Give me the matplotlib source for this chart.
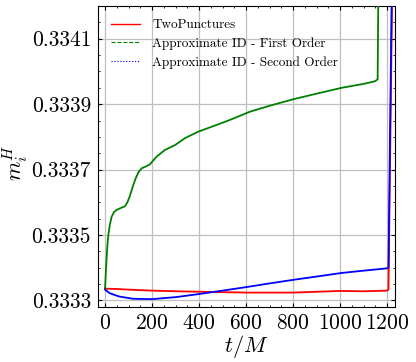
import numpy as np
import matplotlib
matplotlib.use('Agg')
import matplotlib.pyplot as plt
from matplotlib.lines import Line2D
from matplotlib.ticker import AutoMinorLocator

plt.rcParams['font.family'] = 'serif'
plt.rcParams['font.serif'] = ['cmr10']
plt.rcParams['mathtext.fontset'] = 'cm'
plt.rcParams['axes.formatter.use_mathtext'] = True

# TwoPunctures
t_tp = [0, 50, 100, 200, 300, 447, 600, 800, 1000, 1100, 1200, 1206, 1222]
m_tp = [0.333336, 0.333335, 0.333333, 0.333330, 0.333328, 0.333326, 0.333324,
        0.333324, 0.333329, 0.333328, 0.333330, 0.333333, 0.33425]

# Approximate ID - First Order
t_fo = [0, 5, 10, 14, 20, 28, 38, 50, 65, 85, 95, 106, 117, 128, 142, 156,
        175, 191, 205, 220, 255, 298, 340, 397, 454, 525, 617, 700, 801, 900,
        1007, 1100, 1149, 1160, 1163]
m_fo = [0.333336, 0.33341, 0.333470, 0.333500, 0.333530, 0.333556, 0.333570,
        0.333577, 0.333582, 0.333588, 0.333600, 0.333620, 0.333646, 0.333669,
        0.333692, 0.333704, 0.333710, 0.333716, 0.333728, 0.333740, 0.333760,
        0.333775, 0.333796, 0.333816, 0.333831, 0.333850, 0.333877, 0.333895,
        0.333915, 0.333932, 0.333950, 0.333962, 0.333970, 0.333976, 0.33425]

# Approximate ID - Second Order
t_so = [0, 20, 60, 120, 200, 300, 404, 500, 603, 700, 801, 900, 1007, 1100,
        1199, 1206, 1220]
m_so = [0.333333, 0.333322, 0.333312, 0.333305, 0.333304, 0.333310, 0.333320,
        0.333330, 0.333341, 0.333352, 0.333363, 0.333373, 0.333384, 0.333391,
        0.333398, 0.333400, 0.33425]

xticks = [0, 200, 400, 600, 800, 1000, 1200]
yticks = [0.3333, 0.3335, 0.3337, 0.3339, 0.3341]

fig = plt.figure(figsize=(4.16, 3.62), dpi=100)
ax = fig.add_axes([0.2356, 0.152, 0.714, 0.8314])

ax.plot(t_tp, m_tp, color='red', lw=1.3, zorder=3)
ax.plot(t_fo, m_fo, color='green', lw=1.3, zorder=3)
ax.plot(t_so, m_so, color='blue', lw=1.3, zorder=3)

ax.set_xlim(-30, 1234)
ax.set_ylim(0.33328, 0.33420)
ax.set_xticks(xticks)
ax.set_yticks(yticks)
ax.set_yticklabels(['%.4f' % v for v in yticks])
ax.xaxis.set_minor_locator(AutoMinorLocator(4))
ax.yaxis.set_minor_locator(AutoMinorLocator(4))
ax.tick_params(which='both', direction='in', top=True, right=True, labelsize=15.5, pad=5)
ax.tick_params(which='major', length=3)
ax.tick_params(which='minor', length=1.5)
ax.grid(True, which='major', color='0.75', lw=0.9)

ax.set_xlabel(r'$t/M$', fontsize=16, labelpad=0)
ax.set_ylabel(r'$m_i^H$', fontsize=16)
ax.yaxis.set_label_coords(-0.228, 0.48)

handles = [Line2D([], [], color='red', lw=1.0, ls='-'),
           Line2D([], [], color='green', lw=0.8, ls='--'),
           Line2D([], [], color='blue', lw=0.8, ls=':')]
labels = ['TwoPunctures', 'Approximate ID - First Order', 'Approximate ID - Second Order']
ax.legend(handles, labels, loc='upper left', frameon=False, fontsize=9.5,
          handlelength=2.2, handletextpad=0.9, labelspacing=0.45,
          borderaxespad=0.6)

fig.savefig('out.png', dpi=100)
